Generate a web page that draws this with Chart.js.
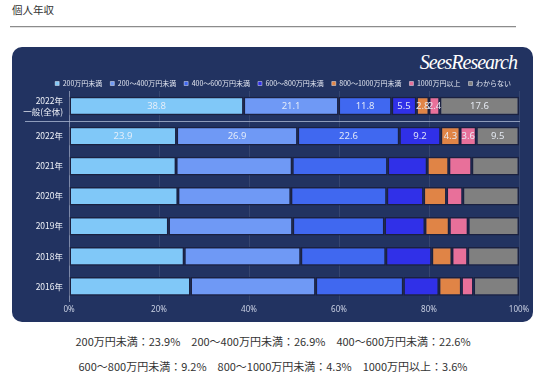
<!DOCTYPE html>
<html><head><meta charset="utf-8">
<script src="https://cdn.jsdelivr.net/npm/chart.js@4"></script>
<style>
html,body{margin:0;padding:0;background:#fff;}
body{width:546px;height:382px;position:relative;overflow:hidden;font-family:"Noto Sans CJK JP",sans-serif;}
#title{position:absolute;left:12px;top:3px;font-size:10.5px;color:#333;line-height:14px;}
#rule{position:absolute;left:10px;top:26px;width:506px;height:1px;background:#8c8c8c;box-shadow:0 1px 0 #e2e2e2;}
#panel{position:absolute;left:12px;top:47px;width:521px;height:275px;background:#223361;border-radius:10px;}
#logo{position:absolute;right:16px;top:3px;font-family:"Liberation Serif",serif;font-style:italic;font-size:20px;color:#fff;letter-spacing:-1px;line-height:24px;}
#wrap{position:absolute;left:0;top:0;width:524px;height:275px;}
.note{position:absolute;left:0;width:546px;text-align:center;font-size:11px;color:#333;line-height:14px;white-space:pre;}
</style></head>
<body>
<div id="title">個人年収</div>
<div id="rule"></div>
<div id="panel">
  <div id="logo">SeesResearch</div>
  <div id="wrap"><canvas id="c"></canvas></div>
</div>
<div class="note" id="note1" style="top:334px"></div>
<div class="note" id="note2" style="top:359px"></div>
<script>
const categories = [['2022年','一般(全体)'],'2022年','2021年','2020年','2019年','2018年','2016年'];
const seriesNames = ['200万円未満','200～400万円未満','400～600万円未満','600～800万円未満','800～1000万円未満','1000万円以上','わからない'];
const under200  = [38.8, 23.9, 23.8, 24.2, 22.1, 25.6, 27.0];
const r200_400  = [21.1, 26.9, 25.8, 25.1, 27.6, 25.9, 27.8];
const r400_600  = [11.8, 22.6, 21.2, 21.3, 20.4, 18.9, 19.5];
const r600_800  = [5.5, 9.2, 8.8, 8.2, 9.0, 10.2, 7.9];
const r800_1000 = [2.8, 4.3, 4.8, 5.1, 5.4, 4.5, 5.0];
const over1000  = [2.4, 3.6, 5.1, 3.6, 4.2, 3.5, 2.7];
const unknown   = [17.6, 9.5, 10.5, 12.5, 11.3, 11.4, 10.1];
const xTicks = [0, 20, 40, 60, 80, 100];
const labeledRows = [0, 1];
const noteRow = 1;

const seriesValues = [under200, r200_400, r400_600, r600_800, r800_1000, over1000, unknown];
const colors = ['#80c8f8','#6f99f5','#4068f0','#3030e8','#e08446','#e8709a','#808080'];

const parts = seriesNames.slice(0,6).map((n,i)=> n + '：' + seriesValues[i][noteRow] + '%');
document.getElementById('note1').textContent = parts.slice(0,3).join('\u3000');
document.getElementById('note2').textContent = parts.slice(3,6).join('\u3000');

const legendFit = {id:'legendFit', beforeInit(chart){
  const orig = chart.legend.fit;
  chart.legend.fit = function(){ orig.call(this); this.height = 19; };
}};

const extras = {id:'extras',
  afterDatasetsDraw(chart){
    const ctx = chart.ctx;
    ctx.save();
    ctx.font = '9.5px "Noto Sans", sans-serif';
    ctx.fillStyle = 'rgba(236,241,250,0.92)';
    ctx.textAlign = 'center';
    ctx.textBaseline = 'middle';
    chart.data.datasets.forEach((ds, di) => {
      const meta = chart.getDatasetMeta(di);
      labeledRows.forEach(r => {
        const el = meta.data[r];
        if (!el) return;
        ctx.fillText(ds.data[r].toFixed(1), (el.x + el.base)/2, el.y + 0.5);
      });
    });
    const ys = chart.scales.y;
    const yy = Math.round((ys.getPixelForValue(0) + ys.getPixelForValue(1))/2) + 0.5;
    ctx.strokeStyle = 'rgba(170,182,210,0.8)';
    ctx.lineWidth = 1;
    ctx.beginPath(); ctx.moveTo(13, yy); ctx.lineTo(508, yy); ctx.stroke();
    ctx.restore();
  }
};

new Chart(document.getElementById('c'), {
  type: 'bar',
  data: {
    labels: categories,
    datasets: seriesNames.map((n,i)=>({
      label: n, data: seriesValues[i], backgroundColor: colors[i],
      borderColor: '#1b2140', borderWidth: 1.5, borderSkipped: false,
      barPercentage: 0.62, categoryPercentage: 1
    }))
  },
  options: {
    indexAxis: 'y', responsive: true, maintainAspectRatio: false, animation: false,
    layout: {padding: {top: 25, right: 17, bottom: 3, left: 0}},
    scales: {
      x: {stacked: true, min: 0, max: 100,
          afterBuildTicks(s){ s.ticks = xTicks.map(v=>({value:v})); },
          grid: {color: 'rgba(255,255,255,0.09)', drawTicks: false},
          border: {display: false},
          ticks: {padding: 4, color: '#c9d0e2', font: {size: 8, family: '"Noto Sans", sans-serif'}, callback: v => v + '%'}},
      y: {stacked: true,
          afterFit(s){ s.width = 57; },
          grid: {display: false, drawTicks: false},
          border: {display: true, color: '#7d89a8', width: 1},
          ticks: {padding: 6, color: '#eef1f8', font: {size: 8.5, family: '"Noto Sans CJK JP", sans-serif', lineHeight: 1.25}}}
    },
    plugins: {
      legend: {position: 'top', align: 'end',
        labels: {boxWidth: 4, boxHeight: 4, padding: 8, color: '#e3e7f1',
          font: {size: 7, family: '"Noto Sans CJK JP", sans-serif'},
          generateLabels(chart){
            const items = Chart.defaults.plugins.legend.labels.generateLabels(chart);
            items.forEach(it => { it.strokeStyle = 'rgba(255,255,255,0.55)'; it.lineWidth = 0.8; });
            return items;
          }}},
      tooltip: {enabled: false}
    }
  },
  plugins: [legendFit, extras]
});
</script>
</body></html>
